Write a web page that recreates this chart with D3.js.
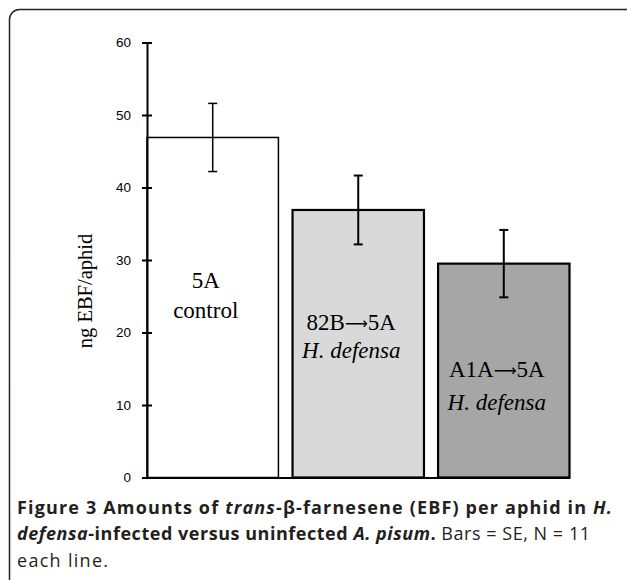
<!DOCTYPE html>
<html>
<head>
<meta charset="utf-8">
<script src="https://cdn.jsdelivr.net/npm/d3@7"></script>
<style>
  body { margin: 0; background: #fff; }
  svg { display: block; }
  .barlabel { font-family: "Liberation Serif", "Times New Roman", serif; font-size: 23px; fill: #000; }
  .arrow { font-family: "DejaVu Sans", sans-serif; font-size: 16px; }
  .caption { font-family: "Open Sans", sans-serif; font-size: 18px; fill: #231f20; }
</style>
</head>
<body>
<script>
'use strict';

// data
var groups = ["5A", "82B", "A1A"];
var labelTop = [["5A"], ["82B", "5A"], ["A1A", "5A"]];
var labelBottom = ["control", "H. defensa", "H. defensa"];
var means = [46.9, 36.9, 29.5];
var errors = [4.7, 4.75, 4.65];
var fills = ["#ffffff", "#d9d9d9", "#a6a6a6"];
var yTicks = [0, 10, 20, 30, 40, 50, 60];

var W = 627, H = 580;
var svg = d3.select("body").append("svg")
    .attr("width", W)
    .attr("height", H);

// frame
svg.append("rect")
    .attr("x", 9.5).attr("y", 9.5)
    .attr("width", 640).attr("height", 640)
    .attr("rx", 10).attr("ry", 10)
    .attr("fill", "none")
    .attr("stroke", "#222")
    .attr("stroke-width", 1.5);

var x = d3.scaleBand()
    .domain(groups)
    .range([147, 569.5])
    .paddingInner(0.097)
    .paddingOuter(0);

var y = d3.scaleLinear()
    .domain([0, 60])
    .range([477.5, 42.5]);

var data = groups.map(function (g, i) {
    return { g: g, mean: means[i], se: errors[i], fill: fills[i], top: labelTop[i], bottom: labelBottom[i], i: i };
});

// bars
svg.selectAll("rect.bar")
    .data(data)
    .enter()
    .append("rect")
    .attr("class", "bar")
    .attr("x", function (d) { return x(d.g); })
    .attr("y", function (d) { return y(d.mean); })
    .attr("width", x.bandwidth())
    .attr("height", function (d) { return y(0) - y(d.mean); })
    .attr("fill", function (d) { return d.fill; })
    .attr("stroke", "#000")
    .attr("stroke-width", function (d) { return d.i === 0 ? 1.5 : 2.2; });

// error bars
var eb = svg.selectAll("g.err")
    .data(data)
    .enter()
    .append("g")
    .attr("class", "err")
    .attr("stroke", "#000")
    .attr("stroke-width", function (d) { return d.i === 0 ? 1.5 : 2; });

eb.append("line")
    .attr("x1", function (d) { return x(d.g) + x.bandwidth() / 2; })
    .attr("x2", function (d) { return x(d.g) + x.bandwidth() / 2; })
    .attr("y1", function (d) { return y(d.mean + d.se); })
    .attr("y2", function (d) { return y(d.mean - d.se); });

[1, -1].forEach(function (s) {
    eb.append("line")
        .attr("x1", function (d) { return x(d.g) + x.bandwidth() / 2 - 4.5; })
        .attr("x2", function (d) { return x(d.g) + x.bandwidth() / 2 + 4.5; })
        .attr("y1", function (d) { return y(d.mean + s * d.se); })
        .attr("y2", function (d) { return y(d.mean + s * d.se); });
});

// labels inside bars
var topY = [288, 330, 377];
var botY = [318, 358, 410];
var lbl = svg.selectAll("g.lbl")
    .data(data)
    .enter()
    .append("g")
    .attr("class", "lbl");

lbl.append("text")
    .attr("class", "barlabel")
    .attr("text-anchor", "middle")
    .attr("x", function (d) { return x(d.g) + x.bandwidth() / 2 - 7; })
    .attr("y", function (d) { return topY[d.i]; })
    .each(function (d) {
        var t = d3.select(this);
        t.append("tspan").text(d.top[0]);
        if (d.top.length > 1) {
            t.append("tspan").attr("class", "arrow").attr("dy", -1).text("\u27f6");
            t.append("tspan").attr("dy", 1).text(d.top[1]);
        }
    });

lbl.append("text")
    .attr("class", "barlabel")
    .attr("text-anchor", "middle")
    .attr("x", function (d) { return x(d.g) + x.bandwidth() / 2 - 7; })
    .attr("y", function (d) { return botY[d.i]; })
    .style("font-style", function (d) { return d.i === 0 ? "normal" : "italic"; })
    .text(function (d) { return d.bottom; });

// x axis (baseline only)
svg.append("g")
    .attr("transform", "translate(0," + y(0) + ")")
    .call(d3.axisBottom(x).tickSize(0).tickSizeOuter(0).tickFormat(""))
    .call(function (g) {
        g.select(".domain").attr("stroke", "#000").attr("stroke-width", 2);
        g.selectAll(".tick").remove();
    });

// y axis
svg.append("g")
    .attr("transform", "translate(147,0)")
    .call(d3.axisLeft(y).tickValues(yTicks).tickSize(5).tickSizeOuter(0).tickPadding(11))
    .call(function (g) {
        g.select(".domain").attr("stroke", "#000").attr("stroke-width", 2);
        g.selectAll(".tick line").attr("x1", 5).attr("stroke", "#000").attr("stroke-width", 2);
        g.selectAll(".tick text")
            .attr("fill", "#000")
            .style("font-family", "'Liberation Sans', Arial, sans-serif")
            .style("font-size", "13.5px");
    });

svg.append("text")
    .attr("class", "barlabel")
    .style("font-size", "20.5px")
    .attr("text-anchor", "middle")
    .attr("transform", "translate(92,291) rotate(-90)")
    .text("ng EBF/aphid");

// caption
var caption = [
    { y: 514, len: 595, parts: [
        ["Figure 3 Amounts of ", "bold", "normal"],
        ["trans", "bold", "italic"],
        ["-\u03b2-farnesene (EBF) per aphid in ", "bold", "normal"],
        ["H.", "bold", "italic"]
    ] },
    { y: 540, len: 573, parts: [
        ["defensa", "bold", "italic"],
        ["-infected versus uninfected ", "bold", "normal"],
        ["A. pisum", "bold", "italic"],
        [".", "bold", "normal"],
        [" Bars = SE, N = 11", "normal", "normal"]
    ] },
    { y: 567, len: 91, parts: [
        ["each line.", "normal", "normal"]
    ] }
];

caption.forEach(function (line) {
    var t = svg.append("text")
        .attr("class", "caption")
        .attr("x", 17)
        .attr("y", line.y)
        .attr("xml:space", "preserve");
    if (line.len) {
        t.attr("textLength", line.len).attr("lengthAdjust", "spacing");
    }
    line.parts.forEach(function (p) {
        t.append("tspan")
            .style("font-weight", p[1])
            .style("font-style", p[2])
            .text(p[0]);
    });
});
</script>
</body>
</html>
